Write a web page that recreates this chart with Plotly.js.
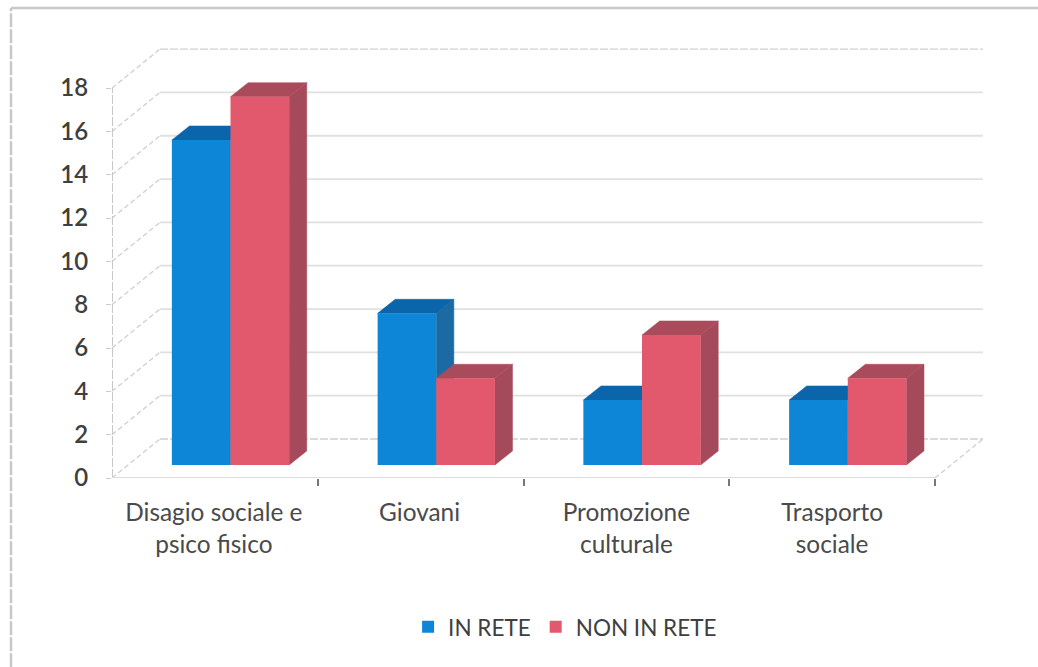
<!DOCTYPE html>
<html>
<head>
<meta charset="utf-8">
<script src="https://cdn.plot.ly/plotly-3.0.1.min.js"></script>
<style>html,body{margin:0;padding:0;background:#fff}#chart{width:1038px;height:667px}</style>
</head>
<body>
<div id="chart"></div>
<script>
const categories = ['Disagio sociale e<br>psico fisico', 'Giovani<br> ', 'Promozione<br>culturale', 'Trasporto<br>sociale'];
const inRete = [15, 7, 3, 3];
const nonInRete = [17, 4, 6, 4];
const yTicks = [0, 2, 4, 6, 8, 10, 12, 14, 16, 18];
const catEdges = [1, 2, 3, 4];
const labelPos = [0.495, 1.495, 2.5, 3.5];

// projection settings for the pseudo-3D look, in axis units
const wallDx = 0.233, wallDy = 1.8;
const barWidth = 0.285, barDx = 0.0855, barDy = 0.65, barBase = 0.6, groupShift = 0.576;
const xRange = [0, 4.243], yRange = [0, 19.85];

const centers = categories.map((c, i) => i + groupShift);

function facePolys(values, side) {
  const top = {x: [], y: []}, right = {x: [], y: []};
  values.forEach((v, i) => {
    const x0 = centers[i] + (side < 0 ? -barWidth : 0), x1 = x0 + barWidth;
    const y0 = barBase, y1 = barBase + v;
    top.x.push(x0, x1, x1 + barDx, x0 + barDx, x0, null);
    top.y.push(y1, y1, y1 + barDy, y1 + barDy, y1, null);
    right.x.push(x1, x1 + barDx, x1 + barDx, x1, x1, null);
    right.y.push(y0, y0 + barDy, y1 + barDy, y1, y0, null);
  });
  return {top, right};
}
function poly(p, color) {
  return {type: 'scatter', mode: 'lines', x: p.x, y: p.y, fill: 'toself', fillcolor: color,
    line: {color: color, width: 0.5}, showlegend: false, hoverinfo: 'skip'};
}
const gridX = [], gridY = [], edgeX = [], edgeY = [], diagX = [], diagY = [];
yTicks.forEach((v, i) => {
  const isEdge = i === 0 || i === yTicks.length - 1;
  (isEdge ? edgeX : gridX).push(wallDx, wallDx + 4, null);
  (isEdge ? edgeY : gridY).push(v + wallDy, v + wallDy, null);
  diagX.push(0, wallDx, null);
  diagY.push(v, v + wallDy, null);
});
diagX.push(4, 4 + wallDx, null);
diagY.push(0, wallDy, null);

const blueF = facePolys(inRete, -1), redF = facePolys(nonInRete, 1);

const traces = [
  {type: 'scatter', mode: 'lines', x: gridX, y: gridY, line: {color: '#e0e0e0', width: 1.8}, showlegend: false, hoverinfo: 'skip'},
  {type: 'scatter', mode: 'lines', x: edgeX, y: edgeY, line: {color: '#d0d0d0', width: 1.4, dash: '8px,2px'}, showlegend: false, hoverinfo: 'skip'},
  {type: 'scatter', mode: 'lines', x: diagX, y: diagY, line: {color: '#cfcfcf', width: 1.3, dash: '5px,3px'}, showlegend: false, hoverinfo: 'skip'},
  poly(blueF.right, '#1b6aa3'),
  poly(blueF.top, '#0a65ab'),
  poly(redF.right, '#a54a5b'),
  poly(redF.top, '#aa4b5b'),
  {type: 'bar', name: 'IN RETE', x: centers, y: inRete, base: barBase, width: barWidth, offset: -barWidth,
    marker: {color: '#0e86d8'}, xaxis: 'x2', yaxis: 'y2'},
  {type: 'bar', name: 'NON IN RETE', x: centers, y: nonInRete, base: barBase, width: barWidth, offset: 0,
    marker: {color: '#e2596d'}, xaxis: 'x2', yaxis: 'y2'}
];

const font = 'Lato, Carlito, sans-serif';
const layout = {
  width: 1038, height: 667,
  margin: {l: 112, r: 53, t: 48, b: 189},
  paper_bgcolor: '#ffffff', plot_bgcolor: 'rgba(0,0,0,0)',
  barmode: 'overlay',
  font: {family: font, color: '#4a4a4a'},
  xaxis: {range: xRange, showgrid: false, zeroline: false, tickmode: 'array', tickvals: labelPos, ticktext: categories,
    ticks: '', tickfont: {size: 24.4, color: '#4a4a4a'}, ticklabelstandoff: 18,
    minor: {tickmode: 'array', tickvals: catEdges, ticks: 'outside', ticklen: 7, tickcolor: '#777', tickwidth: 1.5, showgrid: false}},
  yaxis: {range: yRange, showgrid: false, zeroline: false, tickmode: 'array', tickvals: yTicks, ticktext: yTicks.map(String),
    ticks: 'outside', ticklen: 5, tickcolor: '#cccccc', tickfont: {size: 24, color: '#3f3f3f', weight: 600}, ticklabelstandoff: 13},
  xaxis2: {range: xRange, overlaying: 'x', visible: false, anchor: 'y2'},
  yaxis2: {range: yRange, overlaying: 'y', visible: false, anchor: 'x2'},
  legend: {orientation: 'h', x: 0.519, y: -0.347, xanchor: 'center', yanchor: 'middle',
    font: {size: 22.5, color: '#3f3f3f', family: font}, itemwidth: 30, bgcolor: 'rgba(0,0,0,0)'},
  shapes: [
    {type: 'line', xref: 'x', yref: 'y', x0: 0, x1: 0, y0: 0, y1: 18, line: {color: '#c8c8c8', width: 2, dash: '9px,2px'}},
    {type: 'line', xref: 'x', yref: 'y', x0: 0, x1: 4, y0: 0, y1: 0, line: {color: '#dcdcdc', width: 2}},
    {type: 'line', xref: 'paper', yref: 'paper', x0: -0.1157, x1: 1.0607, y0: 1.0930, y1: 1.0930, line: {color: '#c8c8c8', width: 2.5}},
    {type: 'line', xref: 'paper', yref: 'paper', x0: -0.1157, x1: -0.1157, y0: -0.44, y1: 1.0930, line: {color: '#c8c8c8', width: 2.5, dash: '14px,2px'}}
  ]
};
Plotly.newPlot('chart', traces, layout, {displayModeBar: false, responsive: false});
</script>
</body>
</html>
